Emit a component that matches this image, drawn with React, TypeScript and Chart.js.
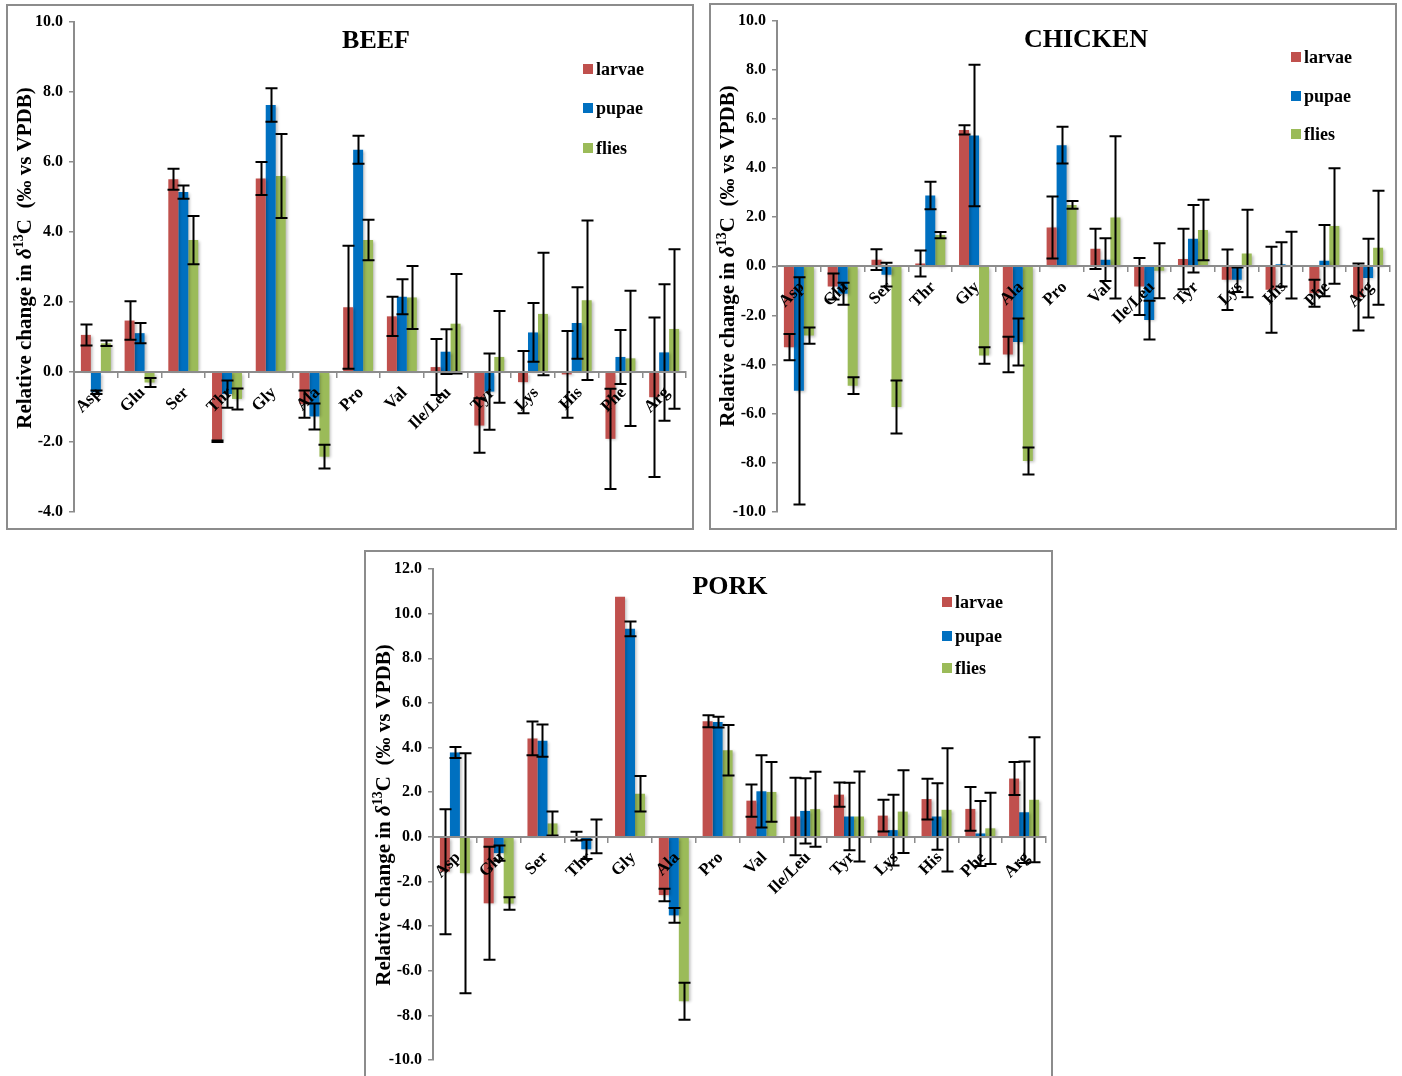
import React, { useEffect, useRef } from 'react';
import { Chart, registerables } from 'chart.js';

Chart.register(...registerables);

const FONT = '"Liberation Serif", "Times New Roman", serif';

// Amino acid categories along the x axis
const aminoAcids = ['Asp', 'Glu', 'Ser', 'Thr', 'Gly', 'Ala', 'Pro', 'Val', 'Ile/Leu', 'Tyr', 'Lys', 'His', 'Phe', 'Arg'];
const seriesNames = ['larvae', 'pupae', 'flies'];
const seriesColors = ['#C0504D', '#0070C0', '#9BBB59'];

// BEEF: relative change in δ13C (‰ vs VPDB) and error (±)
const beefLarvae = [1.06, 1.47, 5.51, -1.98, 5.53, -0.92, 1.85, 1.59, 0.14, -1.53, -0.29, -0.07, -1.91, -0.72];
const beefLarvaeErr = [0.30, 0.55, 0.30, 0.02, 0.47, 0.39, 1.76, 0.56, 0.80, 0.78, 0.89, 1.24, 1.43, 2.28];
const beefPupae = [-0.58, 1.11, 5.14, -0.63, 7.63, -1.27, 6.35, 2.15, 0.58, -0.56, 1.13, 1.40, 0.43, 0.56];
const beefPupaeErr = [0.05, 0.29, 0.19, 0.39, 0.48, 0.37, 0.40, 0.50, 0.64, 1.09, 0.84, 1.02, 0.77, 1.95];
const beefFlies = [0.82, -0.30, 3.77, -0.77, 5.60, -2.42, 3.77, 2.13, 1.38, 0.43, 1.66, 2.05, 0.39, 1.23];
const beefFliesErr = [0.08, 0.13, 0.69, 0.30, 1.20, 0.34, 0.58, 0.90, 1.42, 1.31, 1.75, 2.28, 1.93, 2.28];

// CHICKEN
const chickenLarvae = [-3.29, -0.82, 0.27, 0.11, 5.55, -3.59, 1.58, 0.71, -0.82, 0.30, -0.55, -0.95, -1.10, -1.25];
const chickenLarvaeErr = [0.53, 0.53, 0.42, 0.53, 0.19, 0.72, 1.26, 0.82, 1.16, 1.23, 1.23, 1.75, 0.55, 1.36];
const chickenPupae = [-5.07, -1.12, -0.34, 2.88, 5.32, -3.08, 4.93, 0.27, -2.19, 1.12, -0.55, 0.08, 0.23, -0.48];
const chickenPupaeErr = [4.62, 0.45, 0.48, 0.56, 2.88, 0.96, 0.75, 0.87, 0.79, 1.37, 0.50, 0.90, 1.45, 1.60];
const chickenFlies = [-2.82, -4.86, -5.73, 1.27, -3.63, -7.92, 2.50, 1.99, -0.18, 1.48, 0.52, 0.05, 1.64, 0.75];
const chickenFliesErr = [0.33, 0.34, 1.08, 0.13, 0.34, 0.55, 0.16, 3.30, 1.12, 1.23, 1.78, 1.36, 2.35, 2.32];

// PORK
const porkLarvae = [-1.56, -2.98, 4.41, 0.03, 10.76, -2.61, 5.18, 1.62, 0.91, 1.89, 0.95, 1.69, 1.25, 2.61];
const porkLarvaeErr = [2.80, 2.53, 0.76, 0.20, 0, 0.28, 0.27, 0.72, 1.74, 0.54, 0.71, 0.91, 0.98, 0.74];
const porkPupae = [3.78, -0.73, 4.31, -0.56, 9.32, -3.52, 5.14, 2.04, 1.16, 0.91, 0.30, 0.91, 0.15, 1.10];
const porkPupaeErr = [0.25, 0.34, 0.72, 0.43, 0.33, 0.33, 0.24, 1.62, 1.46, 1.51, 1.58, 1.49, 1.46, 2.27];
const porkFlies = [-1.63, -2.99, 0.60, 0.02, 1.93, -7.37, 3.88, 2.01, 1.24, 0.91, 1.13, 1.21, 0.38, 1.66];
const porkFliesErr = [5.38, 0.28, 0.54, 0.76, 0.79, 0.83, 1.13, 1.34, 1.68, 2.02, 1.85, 2.76, 1.60, 2.80];

type Box = { left: number; top: number; width: number; height: number };
type Area = { left: number; top: number; right: number; bottom: number };

type PanelSpec = {
  title: string;
  values: number[][];
  errors: number[][];
  yMin: number;
  yMax: number;
  box: Box;
  area: Area;
  titlePos: { x: number; y: number };
  legendX: number;
  legendRows: number[];
  yTitlePos: { x: number; y: number };
};

const BORDER = 2;

const panels: PanelSpec[] = [
  {
    title: 'BEEF',
    values: [beefLarvae, beefPupae, beefFlies],
    errors: [beefLarvaeErr, beefPupaeErr, beefFliesErr],
    yMin: -4,
    yMax: 10,
    box: { left: 6, top: 4, width: 688, height: 526 },
    area: { left: 66, top: 16, right: 678, bottom: 506 },
    titlePos: { x: 368, y: 35 },
    legendX: 575,
    legendRows: [63, 102, 142],
    yTitlePos: { x: 16, y: 252 },
  },
  {
    title: 'CHICKEN',
    values: [chickenLarvae, chickenPupae, chickenFlies],
    errors: [chickenLarvaeErr, chickenPupaeErr, chickenFliesErr],
    yMin: -10,
    yMax: 10,
    box: { left: 709, top: 3, width: 688, height: 527 },
    area: { left: 66, top: 15, right: 679, bottom: 507 },
    titlePos: { x: 375, y: 35 },
    legendX: 580,
    legendRows: [52, 91, 129],
    yTitlePos: { x: 16, y: 251 },
  },
  {
    title: 'PORK',
    values: [porkLarvae, porkPupae, porkFlies],
    errors: [porkLarvaeErr, porkPupaeErr, porkFliesErr],
    yMin: -10,
    yMax: 12,
    box: { left: 364, top: 550, width: 689, height: 530 },
    area: { left: 67, top: 17, right: 680, bottom: 508 },
    titlePos: { x: 364, y: 35 },
    legendX: 576,
    legendRows: [50, 84, 116],
    yTitlePos: { x: 17, y: 263 },
  },
];

function drawYTitle(ctx: CanvasRenderingContext2D, x: number, y: number) {
  const big = `bold 21px ${FONT}`;
  const segs = [
    { t: 'Relative change in ', f: big, dy: 0 },
    { t: 'δ', f: `italic bold 21px ${FONT}`, dy: 0 },
    { t: '13', f: `bold 14px ${FONT}`, dy: -8 },
    { t: 'C  (‰ vs VPDB)', f: big, dy: 0 },
  ];
  ctx.save();
  ctx.translate(x, y);
  ctx.rotate(-Math.PI / 2);
  ctx.fillStyle = '#000';
  ctx.textBaseline = 'alphabetic';
  ctx.textAlign = 'left';
  let total = 0;
  const widths = segs.map((s) => {
    ctx.font = s.f;
    const w = ctx.measureText(s.t).width;
    total += w;
    return w;
  });
  let cx = -total / 2;
  segs.forEach((s, i) => {
    ctx.font = s.f;
    ctx.fillText(s.t, cx, 7 + s.dy);
    cx += widths[i];
  });
  ctx.restore();
}

function Panel({ spec }: { spec: PanelSpec }) {
  const ref = useRef<HTMLCanvasElement>(null);
  const innerW = spec.box.width - BORDER * 2;
  const innerH = spec.box.height - BORDER * 2;

  useEffect(() => {
    const canvas = ref.current;
    if (!canvas) return;

    const decor = {
      id: 'panelDecor',
      beforeDatasetsDraw(chart: any) {
        const ctx = chart.ctx;
        ctx.save();
        ctx.shadowColor = 'rgba(0,0,0,0.28)';
        ctx.shadowBlur = 3;
        ctx.shadowOffsetX = 2;
        ctx.shadowOffsetY = 1;
      },
      afterDatasetsDraw(chart: any) {
        const ctx = chart.ctx;
        ctx.restore();
        // error bars
        const yScale = chart.scales.y;
        ctx.save();
        ctx.strokeStyle = '#000';
        ctx.lineWidth = 2;
        chart.data.datasets.forEach((ds: any, i: number) => {
          const meta = chart.getDatasetMeta(i);
          meta.data.forEach((bar: any, j: number) => {
            const v = ds.data[j];
            const e = ds.errors[j];
            if (!e) return;
            const x = Math.round(bar.x) + 0.5;
            const yTop = yScale.getPixelForValue(v + e);
            const yBot = yScale.getPixelForValue(v - e);
            const half = 6;
            ctx.beginPath();
            ctx.moveTo(x, yTop);
            ctx.lineTo(x, yBot);
            ctx.moveTo(x - half, yTop);
            ctx.lineTo(x + half, yTop);
            ctx.moveTo(x - half, yBot);
            ctx.lineTo(x + half, yBot);
            ctx.stroke();
          });
        });
        ctx.restore();
      },
      afterDraw(chart: any) {
        const ctx = chart.ctx;
        ctx.save();
        // title
        ctx.fillStyle = '#000';
        ctx.font = `bold 26px ${FONT}`;
        ctx.textAlign = 'center';
        ctx.textBaseline = 'middle';
        ctx.fillText(spec.title, spec.titlePos.x, spec.titlePos.y);
        // legend
        ctx.font = `bold 18px ${FONT}`;
        ctx.textAlign = 'left';
        chart.data.datasets.forEach((ds: any, i: number) => {
          const ry = spec.legendRows[i];
          ctx.fillStyle = ds.backgroundColor;
          ctx.fillRect(spec.legendX, ry - 5, 10, 10);
          ctx.fillStyle = '#000';
          ctx.fillText(ds.label, spec.legendX + 13, ry + 1);
        });
        ctx.restore();
        drawYTitle(ctx, spec.yTitlePos.x, spec.yTitlePos.y);
      },
    };

    const chart = new Chart(canvas, {
      type: 'bar',
      data: {
        labels: aminoAcids,
        datasets: seriesNames.map((name, i) => ({
          label: name,
          data: spec.values[i],
          errors: spec.errors[i],
          backgroundColor: seriesColors[i],
          borderWidth: 0,
          categoryPercentage: 0.685,
          barPercentage: 1,
        })) as any,
      },
      options: {
        responsive: false,
        maintainAspectRatio: false,
        animation: false,
        devicePixelRatio: 1,
        layout: {
          padding: {
            left: 0,
            top: spec.area.top,
            right: innerW - spec.area.right,
            bottom: innerH - spec.area.bottom,
          },
        },
        plugins: {
          legend: { display: false },
          tooltip: { enabled: false },
          title: { display: false },
        },
        scales: {
          x: {
            type: 'category',
            position: { y: 0 } as any,
            offset: true,
            grid: {
              display: true,
              drawOnChartArea: false,
              drawTicks: true,
              tickLength: 5,
              color: '#8c8c8c',
              lineWidth: 1.5,
              offset: true,
              z: 1,
            },
            border: { display: true, color: '#8c8c8c', width: 2, z: 1 },
            ticks: {
              z: 1,
              autoSkip: false,
              minRotation: 45,
              maxRotation: 45,
              padding: 6,
              labelOffset: 3,
              color: '#000',
              font: { family: FONT, size: 17, weight: 'bold' },
            },
          },
          y: {
            min: spec.yMin,
            max: spec.yMax,
            afterFit: (scale: any) => {
              scale.width = spec.area.left;
            },
            grid: {
              display: true,
              drawOnChartArea: false,
              drawTicks: true,
              tickLength: 5,
              color: '#8c8c8c',
              lineWidth: 1.5,
            },
            border: { display: true, color: '#8c8c8c', width: 2 },
            ticks: {
              stepSize: 2,
              padding: 6,
              color: '#000',
              font: { family: FONT, size: 16, weight: 'bold' },
              callback: (v: any) => Number(v).toFixed(1),
            },
          },
        },
      },
      plugins: [decor],
    } as any);

    return () => chart.destroy();
  }, [spec]);

  return (
    <div
      style={{
        position: 'absolute',
        left: spec.box.left,
        top: spec.box.top,
        width: spec.box.width,
        height: spec.box.height,
        border: `${BORDER}px solid #8c8c8c`,
        boxSizing: 'border-box',
        background: '#fff',
      }}
    >
      <canvas ref={ref} width={innerW} height={innerH} style={{ display: 'block', width: innerW, height: innerH }} />
    </div>
  );
}

export default function App() {
  return (
    <div
      style={{
        position: 'absolute',
        left: 0,
        top: 0,
        width: 1402,
        height: 1076,
        overflow: 'hidden',
        background: '#fff',
      }}
    >
      {panels.map((p) => (
        <Panel key={p.title} spec={p} />
      ))}
    </div>
  );
}
